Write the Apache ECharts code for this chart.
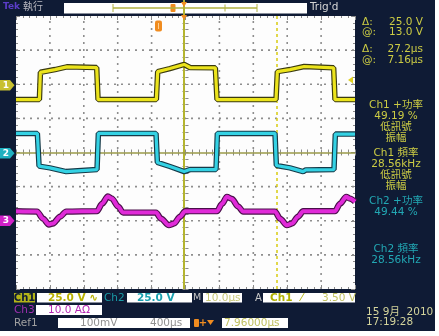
<!DOCTYPE html>
<html><head><meta charset="utf-8">
<script src="https://cdn.jsdelivr.net/npm/echarts/dist/echarts.min.js"></script>
<style>
html,body{margin:0;padding:0;background:#fff;}
#wrap{position:relative;width:439px;height:336px;background:#fff;}
#navy{position:absolute;left:0;top:0;width:435px;height:331px;background:#0f1b35;}
#plotbg{position:absolute;left:16px;top:16px;width:339px;height:273px;background:#fdfdfd;}
#c{position:absolute;left:0;top:0;width:439px;height:336px;}
</style>
</head><body><div id="wrap"><div id="navy"></div><div id="plotbg"></div><div id="c"></div></div>
<script>
// ---- data (time in µs, level in divisions) ----
const ch1Time  = [0, 6.9, 7.2, 7.7, 11.5, 15.0, 15.3, 23.8, 24.2, 41.4, 41.8, 45.4, 49.6, 51.3, 58.8, 59.3, 76.7, 77.1, 80.8, 85.0, 85.5, 93.7, 94.1, 100];
const ch1Level = [1.55, 1.55, 2.35, 2.36, 2.43, 2.51, 2.49, 2.49, 1.55, 1.55, 2.37, 2.46, 2.58, 2.49, 2.48, 1.55, 1.55, 2.37, 2.43, 2.52, 2.49, 2.48, 1.55, 1.55];
const ch2Time  = [0, 6.3, 6.8, 10.0, 14.8, 15.3, 23.9, 24.3, 41.3, 41.7, 45.4, 49.6, 51.3, 59.0, 59.4, 76.4, 76.8, 80.8, 84.7, 85.5, 93.8, 94.2, 100];
const ch2Level = [0.56, 0.56, -0.40, -0.45, -0.56, -0.51, -0.50, 0.56, 0.56, -0.29, -0.41, -0.56, -0.50, -0.50, 0.56, 0.56, -0.38, -0.45, -0.56, -0.51, -0.50, 0.54, 0.54];
const ch3Time  = [0, 6.2, 8.0, 9.7, 10.9, 13.0, 14.8, 23.9, 25.4, 27.1, 28.3, 30.1, 31.6, 41.3, 42.8, 45.1, 46.6, 48.4, 49.9, 59.3, 60.8, 62.2, 63.7, 65.5, 67.0, 76.4, 77.9, 79.9, 81.4, 83.2, 84.7, 94.1, 95.6, 97.4, 98.5, 100];
const ch3Level = [-1.72, -1.73, -1.94, -2.11, -2.08, -1.88, -1.73, -1.72, -1.50, -1.29, -1.35, -1.58, -1.76, -1.76, -1.94, -2.13, -2.08, -1.88, -1.72, -1.72, -1.50, -1.30, -1.36, -1.58, -1.73, -1.73, -1.94, -2.13, -2.08, -1.88, -1.72, -1.72, -1.50, -1.30, -1.35, -1.44];
const gratX = [10, 20, 30, 40, 60, 70, 80, 90];   // µs, vertical graticule lines
const gratY = [-3, -2, -1, 1, 2, 3];              // div, horizontal graticule lines
const cursorA = 49.6;   // µs
const cursorB = 76.8;   // µs (Δ 27.2 µs)
const cursorH = 0;      // div
const readouts = [["Δ:", "25.0 V"], ["@:", "13.0 V"], ["Δ:", "27.2µs"], ["@:", "7.16µs"]];
const measures1 = ["Ch1 +功率", "49.19 %", "低訊號", "振幅", "Ch1 頻率", "28.56kHz", "低訊號", "振幅"];
const measures2 = ["Ch2 +功率", "49.44 %"];
const measures3 = ["Ch2 頻率", "28.56kHz"];

const zip = (a, b) => a.map((v, i) => [v, b[i]]);
const FONT = 'DejaVu Sans, "Noto Sans CJK TC", sans-serif';
const tickC = '#8a8a8a', dotC = '#8e8e8e';
const G = {left: 16, top: 16, width: 339, height: 273, containLabel: false};

function edgeAxis(extra) {
  return Object.assign({
    type: 'value', axisLine: {show: false, onZero: false}, axisLabel: {show: false},
    axisTick: {show: true, inside: true, length: 4, lineStyle: {color: tickC}},
    minorTick: {show: true, splitNumber: 5, length: 2, lineStyle: {color: tickC}},
    splitLine: {show: false}
  }, extra);
}

const chart = echarts.init(document.getElementById('c'), null, {renderer: 'canvas'});

function tx(x, y, s, color, size, align, weight) {
  return {type: 'text', x: x, y: y, silent: true, z: 50,
    style: {text: s, fill: color, font: (weight || 'normal') + ' ' + (size || 10.5) + 'px ' + FONT,
      textAlign: align || 'left', textVerticalAlign: 'middle'}};
}
function rc(x, y, w, h, fill, r) {
  return {type: 'rect', silent: true, z: 40, shape: {x: x, y: y, width: w, height: h, r: r || 0}, style: {fill: fill}};
}
function poly(pts, fill) {
  return {type: 'polygon', silent: true, z: 45, shape: {points: pts}, style: {fill: fill}};
}
function ln(x1, y1, x2, y2, color, w) {
  return {type: 'line', silent: true, z: 45, shape: {x1: x1, y1: y1, x2: x2, y2: y2}, style: {stroke: color, lineWidth: w || 1}};
}

const yel = '#cccc44', cyanT = '#22a8b4', mag = '#b428b4';
const gfx = [];
// top bar
gfx.push(tx(3, 7, 'Tek', '#5a3cc8', 9, 'left', 'bold'));
gfx.push(tx(23, 7, '執行', '#b8b8c0', 10));
gfx.push(rc(64, 3, 243, 10.5, '#ffffff'));
gfx.push(ln(113, 8, 257, 8, '#b0b040', 1.5));
gfx.push(ln(113, 4, 113, 12, '#b0b040', 1));
gfx.push(ln(257, 4, 257, 12, '#b0b040', 1));
gfx.push(ln(225, 4.5, 225, 11.5, '#b0b040', 1));
gfx.push(rc(170.5, 4, 5, 8, '#f08c20', 1));
gfx.push(ln(184, 0, 184, 16, '#b4b430', 2));
gfx.push(poly([[181, 2], [187, 2], [184, 7]], '#f08c20'));
gfx.push(poly([[181, 15], [187, 15], [184, 20]], '#f08c20'));
gfx.push(tx(310, 7, "Trig'd", '#d4d4d4', 10.5));
// trigger position marker in graticule
gfx.push(rc(155, 20.5, 7, 11, '#f08c20', 2));
gfx.push(ln(158.5, 23, 158.5, 29, '#ffd090', 1));
// trigger level arrow at right
gfx.push(poly([[348, 80], [353, 76.5], [353, 83.5]], '#e0d020'));
// channel markers at left
gfx.push(poly([[0, 80], [10, 80], [14.5, 85.3], [10, 90.6], [0, 90.6]], '#c8c030'));
gfx.push(tx(6, 85.5, '1', '#ffffff', 9, 'center', 'bold'));
gfx.push(poly([[0, 148], [10, 148], [14.5, 153.3], [10, 158.6], [0, 158.6]], '#20b0c0'));
gfx.push(tx(6, 153.5, '2', '#ffffff', 9, 'center', 'bold'));
gfx.push(poly([[0, 215.5], [10, 215.5], [14.5, 220.8], [10, 226], [0, 226]], '#d020c8'));
gfx.push(tx(6, 221, '3', '#ffffff', 9, 'center', 'bold'));
// right panel readouts
const ry = [22, 32.5, 49, 60];
readouts.forEach((r, i) => {
  gfx.push(tx(362, ry[i], r[0], yel, 10.5));
  gfx.push(tx(423, ry[i], r[1], yel, 10.5, 'right'));
});
const my1 = [105, 116, 127, 138, 153, 164, 175, 186];
measures1.forEach((s, i) => gfx.push(tx(396, my1[i], s, yel, 10.5, 'center')));
measures2.forEach((s, i) => gfx.push(tx(396, [201, 212][i], s, cyanT, 10.5, 'center')));
measures3.forEach((s, i) => gfx.push(tx(396, [249, 260][i], s, cyanT, 10.5, 'center')));
// bottom rows
gfx.push(rc(14, 293, 21, 9.5, '#b4b418'));
gfx.push(tx(24.5, 298, 'Ch1', '#0f1b35', 10, 'center', 'bold'));
gfx.push(rc(37, 293, 65, 9.5, '#ffffff'));
gfx.push(tx(48, 298, '25.0 V ∿', '#b8b000', 10.5, 'left', 'bold'));
gfx.push(tx(104, 298, 'Ch2', '#1a9ca8', 10.5));
gfx.push(rc(127, 293, 65, 9.5, '#ffffff'));
gfx.push(tx(137, 298, '25.0 V', '#1aa0b0', 10.5, 'left', 'bold'));
gfx.push(tx(193, 298, 'M', '#c8c8c8', 9.5));
gfx.push(rc(203, 293, 39, 9.5, '#ffffff'));
gfx.push(tx(205, 298, '10.0µs', '#c8c878', 10.5));
gfx.push(tx(255, 298, 'A', '#c8c8c8', 10));
gfx.push(rc(263, 293, 92, 9.5, '#ffffff'));
gfx.push(tx(270, 298, 'Ch1', '#b0b000', 10.5, 'left', 'bold'));
gfx.push(tx(301, 298, '⁄', '#b0b000', 10.5));
gfx.push(tx(322, 298, '3.50 V', '#c0c060', 10.5));
gfx.push(tx(14, 310, 'Ch3', '#a030b0', 10.5));
gfx.push(rc(36, 305, 66, 10, '#ffffff'));
gfx.push(tx(48, 310, '10.0 AΩ', mag, 10.5));
gfx.push(tx(14, 323, 'Ref1', '#a0a0a0', 10.5));
gfx.push(rc(58, 318, 132, 10, '#ffffff'));
gfx.push(tx(80, 323, '100mV', '#909090', 10.5));
gfx.push(tx(150, 323, '400µs', '#909090', 10.5));
gfx.push(rc(194, 319, 5, 8, '#f08c20', 1));
gfx.push(tx(203, 323, '+', '#f08c20', 10, 'center', 'bold'));
gfx.push(poly([[207, 320], [214, 320], [210.5, 325]], '#f08c20'));
gfx.push(rc(222, 318, 66, 10, '#ffffff'));
gfx.push(tx(224, 323, '7.96000µs', '#c0c060', 10.5));
gfx.push(tx(366, 312, '15 9月  2010', '#d4d49c', 10.5));
gfx.push(tx(366, 322.5, '17:19:28', '#d4d49c', 10.5));

function trace(t, v, outer, inner, smooth, w) {
  const base = {type: 'line', xAxisIndex: 0, yAxisIndex: 0, data: zip(t, v), showSymbol: false, silent: true,
    smooth: smooth || false, smoothMonotone: 'x', clip: true, animation: false};
  return [
    Object.assign({}, base, {z: 5, lineStyle: {color: outer, width: (w || 3.2) + 2.3}}),
    Object.assign({}, base, {z: 6, lineStyle: {color: inner, width: w || 3.2}})
  ];
}

const centerTick = (inside) => ({
  axisLine: {show: false, onZero: true},
  axisTick: {show: true, inside: inside, length: 3, lineStyle: {color: tickC}},
  minorTick: {show: true, splitNumber: 5, length: 3, lineStyle: {color: tickC}}
});

// graticule: dotted lines, each drawn as a 2-point line series
const gratSeries = gratX.map(v => [[v, -4], [v, 4]]).concat(gratY.map(v => [[0, v], [100, v]])).map(d => ({
  type: 'line', xAxisIndex: 0, yAxisIndex: 0, data: d, showSymbol: false, silent: true, z: 1, animation: false,
  lineStyle: {color: dotC, width: 1.6, type: [2, 5]}
}));

const option = {
  animation: false,
  backgroundColor: 'transparent',
  grid: [Object.assign({}, G), Object.assign({}, G), Object.assign({}, G)],
  xAxis: [
    edgeAxis({gridIndex: 0, min: 0, max: 100, interval: 10, position: 'bottom'}),
    edgeAxis({gridIndex: 0, min: 0, max: 100, interval: 10, position: 'top'}),
    edgeAxis(Object.assign({gridIndex: 1, min: -50, max: 50, interval: 10, position: 'bottom'}, centerTick(true))),
    edgeAxis(Object.assign({gridIndex: 2, min: -50, max: 50, interval: 10, position: 'bottom'}, centerTick(false)))
  ],
  yAxis: [
    edgeAxis({gridIndex: 0, min: -4, max: 4, interval: 1, position: 'left'}),
    edgeAxis({gridIndex: 0, min: -4, max: 4, interval: 1, position: 'right'}),
    edgeAxis(Object.assign({gridIndex: 1, min: -4, max: 4, interval: 1, position: 'left'}, centerTick(true))),
    edgeAxis(Object.assign({gridIndex: 2, min: -4, max: 4, interval: 1, position: 'left'}, centerTick(false)))
  ],
  series: gratSeries.concat([
    {type: 'line', xAxisIndex: 0, yAxisIndex: 0, data: [], silent: true, z: 3,
      markLine: {silent: true, symbol: 'none', animation: false, label: {show: false},
        data: [
          {xAxis: cursorA, lineStyle: {color: '#b4b430', width: 2, type: 'solid'}},
          {xAxis: cursorB, lineStyle: {color: '#d8cc10', width: 1.5, type: [3, 3]}},
          {yAxis: cursorH, lineStyle: {color: '#9a9a48', width: 1.5, type: 'solid'}}
        ]}}
  ]).concat(
    trace(ch1Time, ch1Level, '#3a3a10', '#ece41c'),
    trace(ch2Time, ch2Level, '#153a48', '#34d2e4'),
    trace(ch3Time, ch3Level, '#4a104a', '#e02ad8', 0.3, 4)
  ),
  graphic: {elements: gfx}
};
chart.setOption(option);
</script>
</body></html>
